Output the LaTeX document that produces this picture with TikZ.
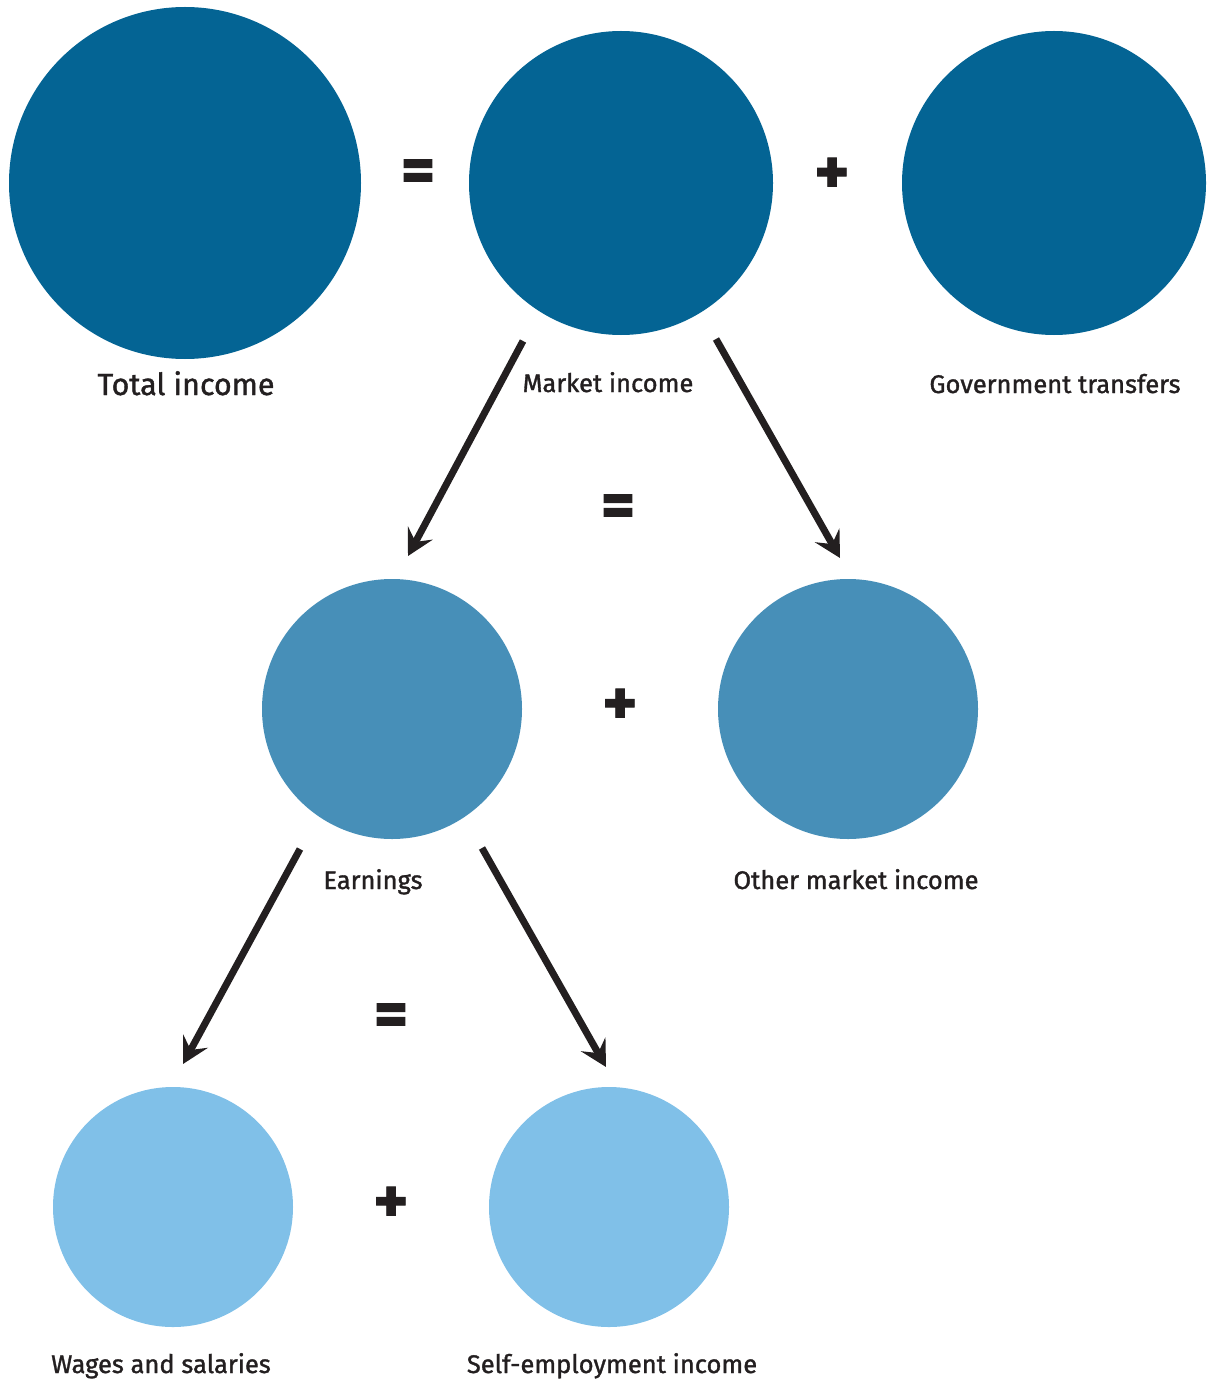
\documentclass[tikz,border=0pt]{standalone}
\usepackage{fontspec}
\setmainfont{Fira Sans}[FakeBold=1.3]
\usetikzlibrary{arrows.meta,calc}
\definecolor{cdark}{HTML}{046494}
\definecolor{cmid}{HTML}{478FB8}
\definecolor{clight}{HTML}{80C0E8}
\definecolor{ink}{HTML}{231F20}
\tikzset{
  disc/.style={circle,inner sep=0pt,minimum size=#1},
  lbl/.style={text=ink,font=\fontsize{25.5}{28}\selectfont,inner sep=0pt,anchor=base},
  op/.style={text=ink,font=\fontsize{66}{70}\selectfont\bfseries,inner sep=0pt},
  arr/.style={draw=ink,line width=7pt,-{Stealth[length=26pt,width=28pt,inset=10pt]}}
}
\begin{document}
\begin{tikzpicture}[x=1pt,y=-1pt]
\useasboundingbox (0,0) rectangle (1207,1380);
% circles
\node[disc=352pt,fill=cdark] (total) at (185,183) {};
\node[disc=304pt,fill=cdark] (market) at (621,183) {};
\node[disc=304pt,fill=cdark] (gov) at (1054,183) {};
\node[disc=260pt,fill=cmid] (earn) at (392,709) {};
\node[disc=260pt,fill=cmid] (other) at (848,709) {};
\node[disc=240pt,fill=clight] (wages) at (173,1207) {};
\node[disc=240pt,fill=clight] (self) at (609,1207) {};
% labels
\node[lbl,font=\fontsize{30.5}{32}\selectfont] (ltotal) at (186,395) {Total income};
\node[lbl] (lmarket) at (608,392) {Market income};
\node[lbl] (lgov) at (1055,393) {Government transfers};
\node[lbl] (learn) at (373,889) {Earnings};
\node[lbl] (lother) at (856,889) {Other market income};
\node[lbl] (lwages) at (161,1373) {Wages and salaries};
\node[lbl] (lself) at (612,1373) {Self-employment income};
% operators
\node[op] (op1) at (418,176) {=};
\node[op] (op2) at (832,176) {+};
\node[op] (op3) at (618,511) {=};
\node[op] (op4) at (620,707) {+};
\node[op] (op5) at (391,1020) {=};
\node[op] (op6) at (391,1205) {+};
% arrows
\coordinate (a1s) at ($(market)+(-98,158)$);
\coordinate (a1e) at ($(earn)+(16,-153)$);
\coordinate (a2s) at ($(market)+(95,156)$);
\coordinate (a2e) at ($(other)+(-8,-151)$);
\coordinate (a3s) at ($(earn)+(-92,140)$);
\coordinate (a3e) at ($(wages)+(10,-143)$);
\coordinate (a4s) at ($(earn)+(90,139)$);
\coordinate (a4e) at ($(self)+(-3,-140)$);
\draw[arr] (a1s) -- (a1e);
\draw[arr] (a2s) -- (a2e);
\draw[arr] (a3s) -- (a3e);
\draw[arr] (a4s) -- (a4e);
\end{tikzpicture}
\end{document}
